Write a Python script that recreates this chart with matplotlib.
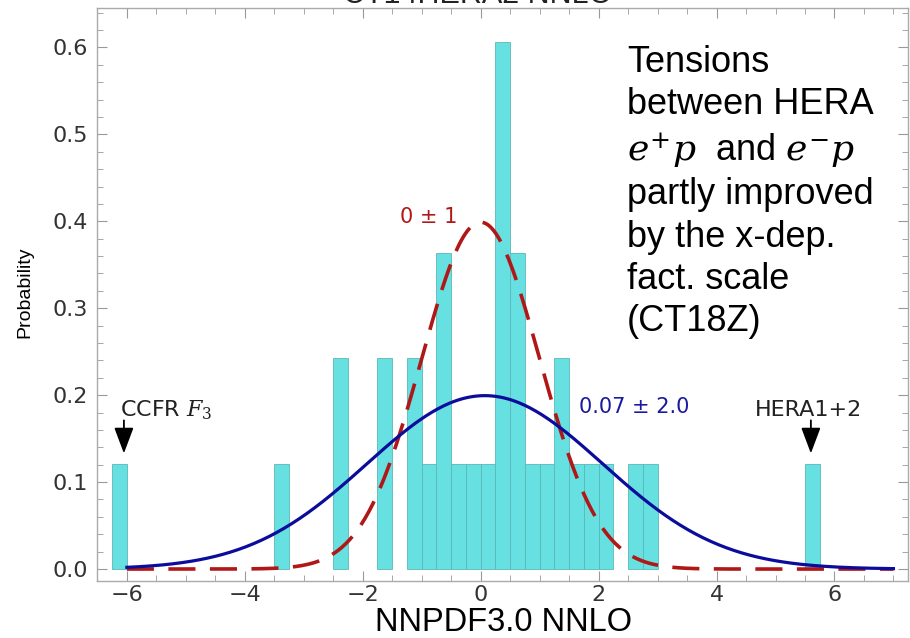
import numpy as np
import matplotlib
matplotlib.use("Agg")
import matplotlib.pyplot as plt
from matplotlib.ticker import MultipleLocator, FormatStrFormatter

plt.rcParams['font.family'] = ['Liberation Sans', 'DejaVu Sans']
plt.rcParams['mathtext.fontset'] = 'dejavuserif'

# histogram: left bin edges (width 0.25) and number of entries
bin_left = [-6.25, -3.5, -2.5, -1.75, -1.25, -1.0, -0.75, -0.5, -0.25, 0.0,
            0.25, 0.5, 0.75, 1.0, 1.25, 1.5, 1.75, 2.0, 2.5, 2.75, 5.5]
counts = [1, 1, 2, 2, 2, 1, 3, 1, 1, 1,
          5, 3, 1, 1, 2, 1, 1, 1, 1, 1, 1]
bin_width = 0.25

# gaussians
ref_mean, ref_sigma = 0.0, 1.0
fit_mean, fit_sigma = 0.07, 2.0

n_total = sum(counts)
prob = [c / (n_total * bin_width) for c in counts]

def gauss(x, m, s):
    return np.exp(-0.5 * ((x - m) / s) ** 2) / (s * np.sqrt(2 * np.pi))

fig = plt.figure(figsize=(9.1, 6.38), dpi=100)
ax = fig.add_axes([0.107, 0.089, 0.891, 0.898])

ax.bar(bin_left, prob, width=bin_width, align='edge', color='#66e0e0',
       edgecolor='#5cb8b8', linewidth=0.6, zorder=1)

x = np.linspace(-6, 7, 400)
ax.plot(x, gauss(x, fit_mean, fit_sigma), color='#0c0c9c', lw=2.3, zorder=3)
ax.plot(x, gauss(x, ref_mean, ref_sigma), color='#b01818', lw=2.6,
        dashes=(7.5, 4), zorder=2)

ax.set_xlim(-6.5, 7.25)
ax.set_ylim(-0.014, 0.645)
ax.xaxis.set_major_locator(MultipleLocator(2))
ax.xaxis.set_minor_locator(MultipleLocator(0.5))
ax.yaxis.set_major_locator(MultipleLocator(0.1))
ax.yaxis.set_minor_locator(MultipleLocator(0.02))
ax.yaxis.set_major_formatter(FormatStrFormatter('%.1f'))
ax.tick_params(which='both', direction='in', top=True, right=True,
               color='#999999', labelsize=16, labelcolor='#333333')
ax.tick_params(which='major', length=7, width=0.8)
ax.tick_params(which='minor', length=4, width=0.6)
ax.tick_params(axis='x', pad=3)
ax.tick_params(axis='y', pad=7)
for lab in ax.get_xticklabels() + ax.get_yticklabels():
    lab.set_family('DejaVu Sans')
for sp in ax.spines.values():
    sp.set_color('#aaaaaa')
    sp.set_linewidth(1.0)

fig.text(0.553, 0.011, 'NNPDF3.0 NNLO', fontsize=23.5, ha='center', va='baseline')
fig.text(0.027, 0.542, 'Probability', fontsize=14, rotation=90,
         ha='center', va='center')

# clipped title at the very top
fig.text(0.525, 0.995, 'CT14HERA2 NNLO', fontsize=22, ha='center', va='baseline',
         color='#222222')

ax.text(-0.88, 0.405, '0 ± 1', color='#b01818', fontsize=15, ha='center',
        va='center', family='DejaVu Sans')
ax.text(2.61, 0.186, '0.07 ± 2.0', color='#1a1aa0', fontsize=15, ha='center',
        va='center', family='DejaVu Sans')

ax.text(-6.12, 0.183, 'CCFR $F_3$', fontsize=16, ha='left', va='center',
        color='#222222', family='DejaVu Sans')
ax.text(5.56, 0.183, 'HERA1+2', fontsize=16, ha='center', va='center',
        color='#222222', family='DejaVu Sans')
for ax_x in (-6.05, 5.6):
    ax.annotate('', xy=(ax_x, 0.133), xytext=(ax_x, 0.171),
                arrowprops=dict(arrowstyle='-|>,head_width=0.3,head_length=0.8',
                                color='black', lw=1.3, mutation_scale=20,
                                shrinkA=0, shrinkB=0))

note = ('Tensions\nbetween HERA\n$e^{+}p$  and $e^{-}p$\npartly improved\n'
        'by the x-dep.\nfact. scale\n(CT18Z)')
fig.text(0.689, 0.930, note, fontsize=26, ha='left', va='top', linespacing=1.27,
         color='black')

fig.savefig('out.png', dpi=100)
